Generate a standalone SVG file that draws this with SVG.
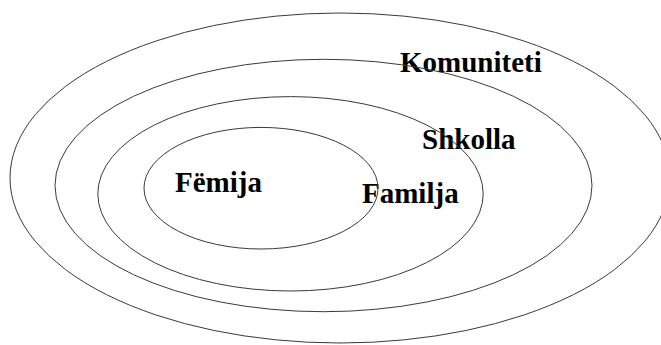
<svg xmlns="http://www.w3.org/2000/svg" width="661" height="345" viewBox="0 0 661 345">
<style>
.ring{fill:none;stroke:#3a3a3a;stroke-width:1}
.lbl{font-family:"Liberation Serif","Times New Roman",serif;font-weight:bold;font-size:29px;fill:#000}
</style>
<rect width="661" height="345" fill="#fff"/>
<g id="komuniteti">
<ellipse class="ring" cx="340" cy="178" rx="330" ry="165"/>
<text class="lbl" x="400" y="72">Komuniteti</text>
</g>
<g id="shkolla">
<ellipse class="ring" cx="323.5" cy="185.5" rx="268.5" ry="126.2"/>
<text class="lbl" x="422" y="149">Shkolla</text>
</g>
<g id="familja">
<ellipse class="ring" cx="290.5" cy="193.8" rx="192.7" ry="97.2"/>
<text class="lbl" x="362" y="203">Familja</text>
</g>
<g id="femija">
<ellipse class="ring" cx="261" cy="188.2" rx="117" ry="60.8"/>
<text class="lbl" x="175" y="192">Fëmija</text>
</g>
<g id="connectors"/>
</svg>
